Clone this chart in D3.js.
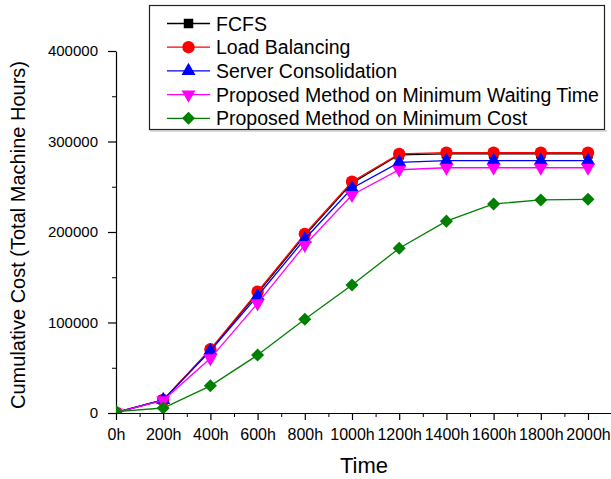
<!DOCTYPE html>
<html>
<head>
<meta charset="utf-8">
<script src="https://d3js.org/d3.v7.min.js"></script>
<style>
  body { margin: 0; background: #fff; }
  svg { display: block; font-family: "Liberation Sans", Arial, sans-serif; }
</style>
</head>
<body>
<div id="chart"></div>
<script>
var hours = [0, 200, 400, 600, 800, 1000, 1200, 1400, 1600, 1800, 2000];
var seriesNames = ["FCFS", "Load Balancing", "Server Consolidation",
  "Proposed Method on Minimum Waiting Time", "Proposed Method on Minimum Cost"];
var fcfs = [500, 14500, 69600, 132600, 196000, 254000, 285300, 286300, 286300, 286300, 286300];
var loadBal = [500, 14500, 70400, 134000, 197800, 255600, 286300, 287600, 287600, 287600, 287600];
var serverCons = [500, 14500, 68800, 129300, 192300, 248300, 277000, 278800, 278800, 278800, 278800];
var propWait = [500, 14000, 60400, 121200, 185600, 240900, 268800, 271000, 271000, 271000, 271000];
var propCost = [1500, 5500, 30000, 64000, 103500, 141500, 182000, 212000, 231000, 235400, 236100];
var yTicks = [0, 100000, 200000, 300000, 400000];

var colors = ["#000000", "#ff0000", "#0000ff", "#ff00ff", "#008000"];
var allSeries = [fcfs, loadBal, serverCons, propWait, propCost];

var width = 611, height = 479;
var svg = d3.select("#chart").append("svg")
  .attr("width", width).attr("height", height);

var x = d3.scaleLinear().domain([0, 2100]).range([116, 611.6]);
var y = d3.scaleLinear().domain([0, 400000]).range([413, 51]);

// plot area clip, markers at the origin get cut by the axes
svg.append("clipPath").attr("id", "plotclip")
  .append("rect").attr("x", 116).attr("y", 0).attr("width", 500).attr("height", 413);

// y axis
var yMinor = d3.range(50000, 400000, 100000);
svg.append("g").attr("transform", "translate(116,0)")
  .call(d3.axisLeft(y).tickValues(yMinor).tickSize(4).tickFormat(""))
  .call(g => g.select(".domain").remove());
svg.append("g").attr("transform", "translate(116,0)")
  .call(d3.axisLeft(y).tickValues(yTicks).tickSize(8).tickSizeOuter(0).tickPadding(10).tickFormat(d3.format("d")))
  .call(g => g.selectAll("text").attr("font-size", 15).attr("fill", "#000").attr("font-family", "Liberation Sans, Arial"))
  .call(g => g.selectAll("line, path").attr("stroke", "#000").attr("stroke-width", 1.2));

// x axis
var xMinor = d3.range(100, 2100, 200);
svg.append("g").attr("transform", "translate(0,413)")
  .call(d3.axisBottom(x).tickValues(xMinor).tickSize(4).tickFormat(""))
  .call(g => g.select(".domain").remove());
svg.append("g").attr("transform", "translate(0,413)")
  .call(d3.axisBottom(x).tickValues(hours).tickSize(7).tickSizeOuter(0).tickPadding(9).tickFormat(d => d + "h"))
  .call(g => g.selectAll("text").attr("font-size", 16).attr("fill", "#000").attr("font-family", "Liberation Sans, Arial"))
  .call(g => g.selectAll("line, path").attr("stroke", "#000").attr("stroke-width", 1.2));

// titles
svg.append("text").attr("x", 364).attr("y", 473).attr("text-anchor", "middle")
  .attr("font-size", 22).text("Time");
svg.append("text").attr("transform", "translate(25,235) rotate(-90)")
  .attr("text-anchor", "middle").attr("font-size", 20)
  .text("Cumulative Cost (Total Machine Hours)");

function markerPath(i) {
  if (i == 0) return d3.symbol(d3.symbolSquare, 90)();
  if (i == 1) return d3.symbol(d3.symbolCircle, 120)();
  if (i == 2 || i == 3) return d3.symbol(d3.symbolTriangle, 85)();
  return d3.symbol(d3.symbolSquare, 85)();
}
function markerRot(i) {
  if (i == 3) return " rotate(180)";
  if (i == 4) return " rotate(45)";
  return "";
}

var line = d3.line().x((d, j) => x(hours[j])).y(d => y(d));

allSeries.forEach(function(vals, i) {
  var g = svg.append("g").attr("clip-path", "url(#plotclip)");
  g.append("path").datum(vals)
    .attr("d", line).attr("fill", "none")
    .attr("stroke", colors[i]).attr("stroke-width", 1.3);
  g.selectAll("path.m").data(vals).join("path")
    .attr("class", "m")
    .attr("d", markerPath(i))
    .attr("transform", (d, j) => "translate(" + x(hours[j]) + "," + y(d) + ")" + markerRot(i))
    .attr("fill", colors[i]);
});

// legend
var leg = svg.append("g");
leg.append("line").attr("x1", 150).attr("x2", 607).attr("y1", 131).attr("y2", 131)
  .attr("stroke", "#bbb").attr("stroke-width", 1);
leg.append("rect").attr("x", 149.5).attr("y", 5.5).attr("width", 455).attr("height", 124)
  .attr("fill", "#fff").attr("stroke", "#222").attr("stroke-width", 1.2);
seriesNames.forEach(function(name, i) {
  var ly = 23.5 + i * 23.7;
  leg.append("line").attr("x1", 167).attr("x2", 210).attr("y1", ly).attr("y2", ly)
    .attr("stroke", colors[i]).attr("stroke-width", 1.3);
  leg.append("path").attr("d", markerPath(i))
    .attr("transform", "translate(188.5," + ly + ")" + markerRot(i))
    .attr("fill", colors[i]);
  leg.append("text").attr("x", 216).attr("y", ly + 7).attr("font-size", 19.5)
    .attr("fill", "#000").text(name);
});
</script>
</body>
</html>
